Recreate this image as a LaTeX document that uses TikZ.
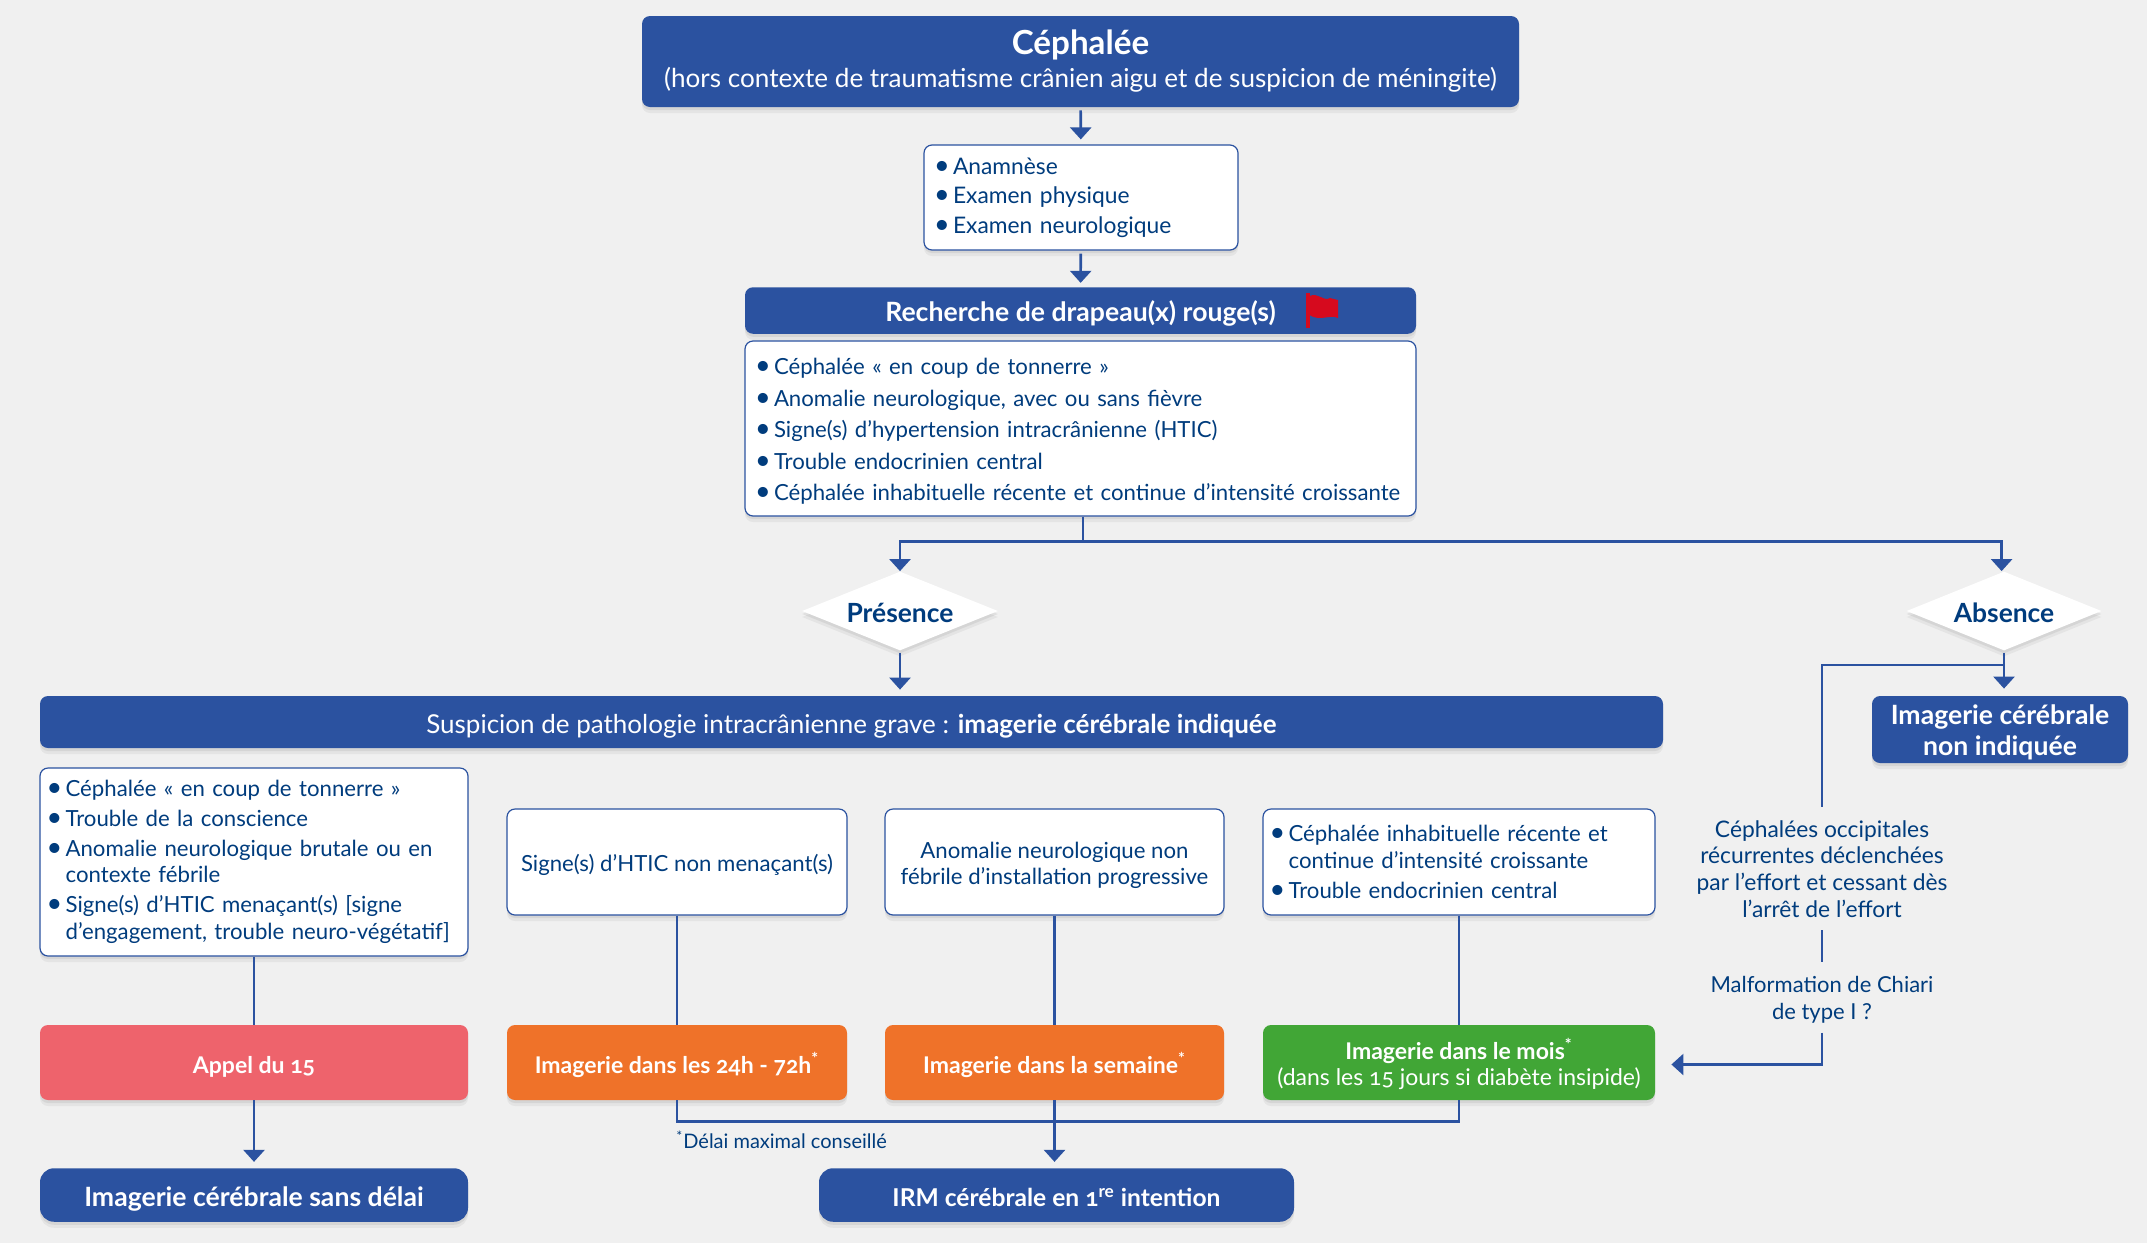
\documentclass[tikz,border=0pt]{standalone}
\usepackage{fontspec}
\setmainfont{Lato}[Numbers=OldStyle]
\usetikzlibrary{shapes.geometric,arrows.meta,shadows}
\definecolor{fond}{RGB}{240,240,240}
\definecolor{bleu}{RGB}{43,82,160}
\definecolor{encre}{RGB}{0,60,125}
\definecolor{rouge}{RGB}{238,99,108}
\definecolor{orange}{RGB}{239,114,41}
\definecolor{vert}{RGB}{65,166,54}
\definecolor{drapeau}{RGB}{214,10,30}
\newcommand{\puce}{\makebox[9.5pt][l]{\fontsize{13.5}{13.5}\selectfont\textbullet}}
\newcommand{\suite}{\hspace*{9.5pt}}

\begin{document}
\begin{tikzpicture}[x=0.5pt, y=-0.5pt,
    boxsize/.style 2 args={minimum width=#1*0.5pt, minimum height=#2*0.5pt},
    listsize/.style 2 args={boxsize={#1}{#2}, text width=#1*0.5pt-10pt},
    ombre/.style={drop shadow={shadow xshift=0pt, shadow yshift=-3pt, opacity=.10},
        drop shadow={shadow xshift=0pt, shadow yshift=-1.5pt, opacity=.14}},
    abaisse/.style={text height=13pt, text depth=2pt},
    box/.style={rectangle, rounded corners=4pt, inner sep=0pt, align=center, ombre},
    header/.style={box, fill=bleu, text=white, font=\fontsize{13.3}{15.5}\selectfont\bfseries},
    listbox/.style={box, fill=white, draw=bleu, line width=0.6pt, text=encre, align=left, inner xsep=5pt,
        font=\fontsize{11.1}{13.4}\selectfont},
    plainbox/.style={listbox, align=center},
    action/.style={box, text=white, font=\fontsize{11.5}{13.4}\selectfont\bfseries},
    decision/.style={diamond, fill=white, inner sep=0pt, aspect=2.5, text=encre, ombre, abaisse,
        font=\fontsize{13.2}{15}\selectfont\bfseries},
    note/.style={text=encre, inner sep=0pt, align=center, font=\fontsize{11.4}{13.4}\selectfont},
    trait/.style={draw=bleu, line width=1.3pt},
    arrow/.style={trait, -{Triangle[width=10.5pt,length=6pt]}}]

    \fill [fond] (0,0) rectangle (2147,1243);

    % Main column
    \node [header, boxsize={877}{91}, font=\fontsize{13.05}{16.5}\selectfont] (cephalee) at (1080.5,61.5)
        {{\fontsize{16.6}{18}\selectfont\bfseries Céphalée}\\\mdseries (hors contexte de traumatisme crânien aigu et de suspicion de méningite)};
    \node [listbox, listsize={314}{105}, font=\fontsize{11.4}{14.7}\selectfont] (examen) at (1081,197.5)
        {\puce Anamnèse\\\puce Examen physique\\\puce Examen neurologique};
    \node [header, abaisse, boxsize={671}{46.5}] (recherche) at (1080.5,310.5) {Recherche de drapeau(x) rouge(s)};
    \node [listbox, listsize={671}{175}, font=\fontsize{11.1}{15.75}\selectfont] (signes) at (1080.5,428.5)
        {\rule{0pt}{11pt}\puce Céphalée « en coup de tonnerre »\\
         \puce Anomalie neurologique, avec ou sans fièvre\\
         \puce Signe(s) d'hypertension intracrânienne (HTIC)\\
         \puce Trouble endocrinien central\\
         \puce Céphalée inhabituelle récente et continue d'intensité croissante};
    \fill [drapeau] (1306,293) rectangle (1309.5,328);
    \fill [drapeau] (1309.5,296) .. controls (1318,292) and (1324,302) .. (1330,298) -- (1338,300)
        -- (1338,318) .. controls (1330,314) and (1320,322) .. (1309.5,315) -- cycle;

    \node [decision, boxsize={196}{79}] (presence) at (900,611) {Présence};
    \node [decision, boxsize={195}{79}] (absence) at (2004,611) {Absence};
    \node [header, abaisse, boxsize={1623}{52}, font=\fontsize{13}{15}\selectfont] (suspicion) at (851.5,722)
        {Suspicion de pathologie intracrânienne grave : \textbf{imagerie cérébrale indiquée}};
    \node [header, boxsize={256}{67}] (nonindiquee) at (2000,729.5) {\rule{0pt}{13pt}Imagerie cérébrale\\non indiquée};

    % Criteria
    \node [listbox, listsize={428}{188}, text width=207.4pt, inner xsep=3.3pt] (grave) at (254,862)
        {\puce Céphalée « en coup de tonnerre »\\[1.4pt]
         \puce Trouble de la conscience\\[1.4pt]
         \puce Anomalie neurologique brutale ou en\\
         \suite contexte fébrile\\[1.4pt]
         \puce Signe(s) d'HTIC menaçant(s) [signe\\
         \suite d'engagement, trouble neuro-végétatif]};
    \node [plainbox, boxsize={340}{106}] (nonmenacant) at (677,862) {\rule{0pt}{11.5pt}Signe(s) d'HTIC non menaçant(s)};
    \node [plainbox, boxsize={339}{106}] (progressive) at (1054.5,862) {\rule{0pt}{11.5pt}Anomalie neurologique non\\fébrile d'installation progressive};
    \node [listbox, listsize={392}{106}, text width=189.4pt, inner xsep=3.3pt] (inhabituelle) at (1459,862)
        {\puce Céphalée inhabituelle récente et\\
         \suite continue d'intensité croissante\\[1.4pt]
         \puce Trouble endocrinien central};

    % Delays
    \node [action, abaisse, fill=rouge, boxsize={428}{75}] (appel) at (254,1062.5) {Appel du 15};
    \node [action, abaisse, fill=orange, boxsize={340}{75}] (delai) at (677,1062.5) {Imagerie dans les 24h - 72h\textsuperscript{*}};
    \node [action, abaisse, fill=orange, boxsize={339}{75}] (semaine) at (1054.5,1062.5) {Imagerie dans la semaine\textsuperscript{*}};
    \node [action, fill=vert, boxsize={392}{75}] (mois) at (1459,1062.5)
        {\rule{0pt}{12pt}Imagerie dans le mois\textsuperscript{*}\\\mdseries (dans les 15 jours si diabète insipide)};

    \node [header, abaisse, rounded corners=7pt, boxsize={428}{53.5}] (sansdelai) at (254,1195) {Imagerie cérébrale sans délai};
    \node [header, abaisse, rounded corners=7pt, boxsize={475}{53.5}, font=\fontsize{12.3}{15}\selectfont\bfseries] (irm) at (1056.5,1195) {IRM cérébrale en 1\textsuperscript{re} intention};

    \node [note, anchor=west, font=\fontsize{10}{11}\selectfont] (conseil) at (676,1140) {\textsuperscript{*}Délai maximal conseillé};
    \node [note] (occipitales) at (1822,869) {Céphalées occipitales\\récurrentes déclenchées\\par l'effort et cessant dès\\l'arrêt de l'effort};
    \node [note, font=\fontsize{11}{13.4}\selectfont] (chiari) at (1822,999.5) {Malformation de Chiari\\de type I ?};

    % Arrows
    \draw [arrow, shorten <=1.5pt, shorten >=2.5pt] (cephalee) -- (examen);
    \draw [arrow, shorten <=1.5pt, shorten >=2pt] (examen) -- (recherche);
    \draw [trait] ([xshift=1.2pt]signes.south) -- ++(0,25) coordinate (branche);
    \draw [arrow] (branche) -| (presence.north);
    \draw [arrow] (branche) -| ([xshift=-1.2pt]absence.north);
    \draw [arrow, shorten <=1pt, shorten >=3pt] (presence) -- (presence |- suspicion.north);
    \draw [arrow, shorten <=1pt, shorten >=3.5pt] (absence) -- (absence |- nonindiquee.north);
    \draw [trait] (absence.south) ++(0,14) coordinate (coude) -| ([yshift=6.5pt]occipitales.north);
    \draw [trait] ([yshift=-6pt]occipitales.south) -- ([yshift=7pt]chiari.north);
    \draw [arrow] ([yshift=-4.6pt]chiari.south) |- ([xshift=8pt,yshift=-1pt]mois.east);
    \draw [trait] (grave) -- (appel);
    \draw [trait] (nonmenacant) -- (delai);
    \draw [trait] (progressive) -- (semaine);
    \draw [trait] (inhabituelle) -- (mois);
    \draw [arrow, shorten >=3pt] (appel) -- (sansdelai);
    \draw [arrow, shorten >=3pt] (semaine) -- (semaine |- irm.north);
    \draw [trait] (delai.south) -- ++(0,21) -| (mois.south);
\end{tikzpicture}
\end{document}
